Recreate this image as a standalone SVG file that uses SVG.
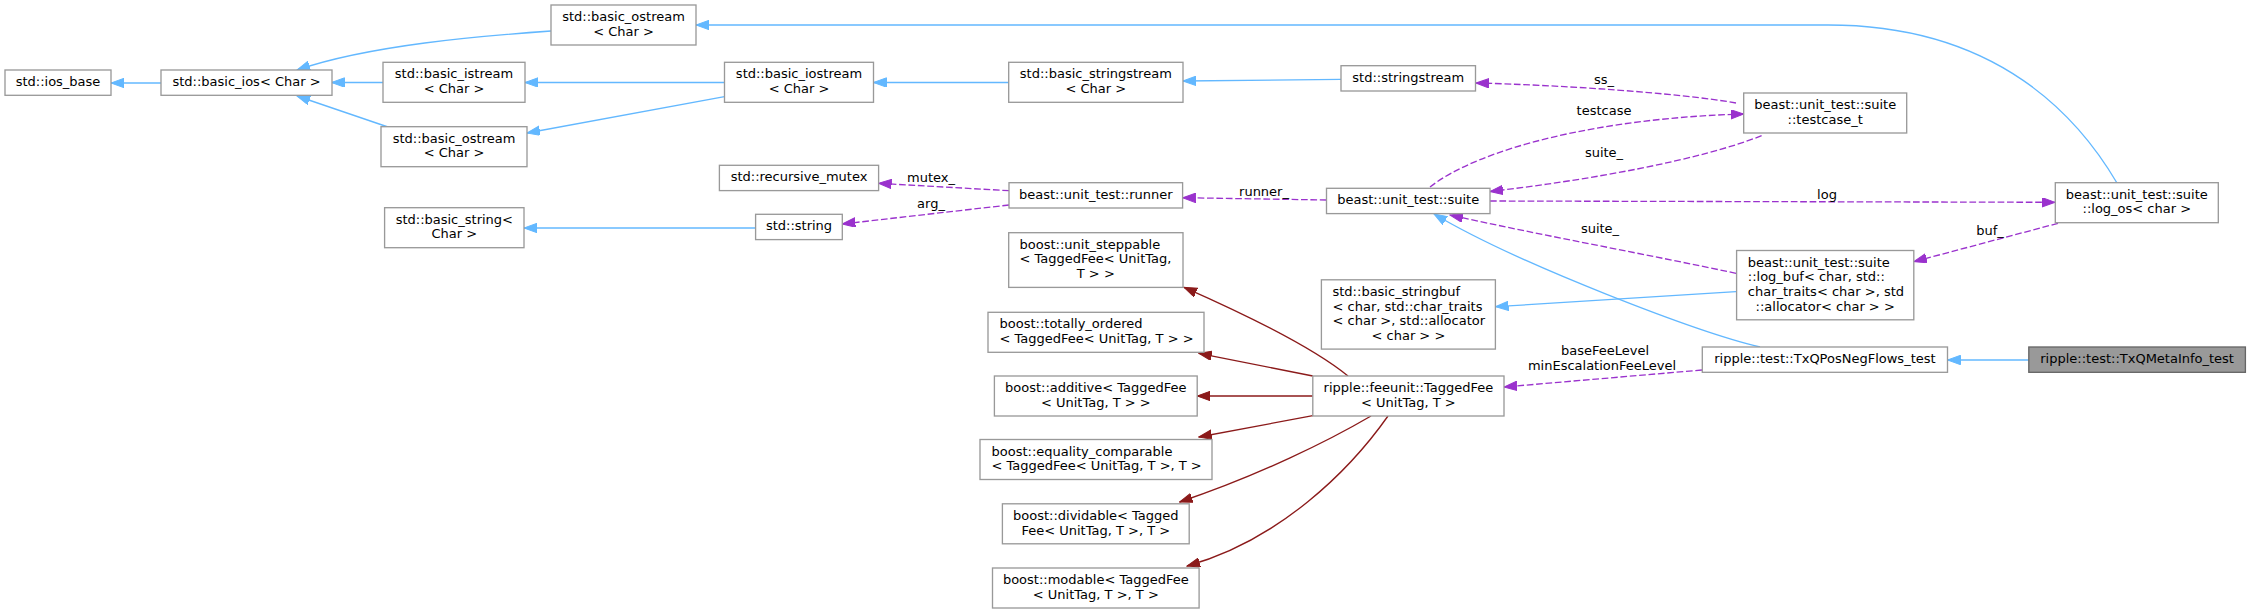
<svg xmlns="http://www.w3.org/2000/svg" width="2251" height="613" viewBox="0 0 2251 613">
<style>
.n rect{fill:#fff;stroke:#999;stroke-width:1.33}
.root rect{fill:#999;stroke:#666;stroke-width:1.33}
text{font-family:"DejaVu Sans",sans-serif;font-size:13px;fill:#000}
.c{text-anchor:middle}
.b{fill:none;stroke:#63b8ff;stroke-width:1.33;marker-end:url(#ab)}
.p{fill:none;stroke:#9a32cd;stroke-width:1.33;stroke-dasharray:6.7,2.7;marker-end:url(#ap)}
.r{fill:none;stroke:#8b1a1a;stroke-width:1.33;marker-end:url(#ar)}
</style>
<defs>
<marker id="ab" markerUnits="userSpaceOnUse" markerWidth="14" markerHeight="10" refX="13" refY="4.7" orient="auto"><path d="M0,0L13,4.7L0,9.4z" fill="#63b8ff" stroke="#63b8ff"/></marker>
<marker id="ap" markerUnits="userSpaceOnUse" markerWidth="14" markerHeight="10" refX="13" refY="4.7" orient="auto"><path d="M0,0L13,4.7L0,9.4z" fill="#9a32cd" stroke="#9a32cd"/></marker>
<marker id="ar" markerUnits="userSpaceOnUse" markerWidth="14" markerHeight="10" refX="13" refY="4.7" orient="auto"><path d="M0,0L13,4.7L0,9.4z" fill="#8b1a1a" stroke="#8b1a1a"/></marker>
</defs>
<rect width="2251" height="613" fill="#fff"/>
<g id="edges">
<path class="b" d="M161,83L111,83"/>
<path class="b" d="M383,82.5L331.5,82.5"/>
<path class="b" d="M388,127L297,96"/>
<path class="b" d="M551,31C480,36 370,45 297,70"/>
<path class="b" d="M724.5,82.5L525,82.5"/>
<path class="b" d="M724.5,96.7L527,133"/>
<path class="b" d="M1008.7,82.5L873.5,82.5"/>
<path class="b" d="M1341,79.3L1183,81"/>
<path class="b" d="M2117,183C2080,120 2000,25 1828,25L696,25"/>
<path class="b" d="M755.6,228L524,228"/>
<path class="b" d="M1760,347C1700,333 1520,265 1434,214"/>
<path class="b" d="M1736,291.7L1495.5,306.7"/>
<path class="b" d="M2028.8,360L1947.5,360"/>
<path class="p" d="M1736,103C1680,93 1560,85 1476,83"/>
<path class="p" d="M1430,187C1480,148 1600,118 1743.7,114"/>
<path class="p" d="M1761.6,135.7C1700,160 1590,180 1490,191.5"/>
<path class="p" d="M1490,201L2055,202.3"/>
<path class="p" d="M1736,273.3C1650,255 1540,235 1450,215"/>
<path class="p" d="M2058,223.3L1913.8,261.7"/>
<path class="p" d="M1326.5,200L1182.6,197.7"/>
<path class="p" d="M1009,190.7L878.6,183.3"/>
<path class="p" d="M1009,205L842.3,224"/>
<path class="p" d="M1702,370L1504,387"/>
<path class="r" d="M1348,376C1310,345 1240,312 1184,287.3"/>
<path class="r" d="M1312.8,376L1198.8,353.3"/>
<path class="r" d="M1312.8,396L1197.2,396"/>
<path class="r" d="M1312.8,415.7L1198.8,437"/>
<path class="r" d="M1371,416C1330,440 1260,475 1179.6,502"/>
<path class="r" d="M1388,416C1350,470 1280,540 1187,566"/>
<text class="c" x="1604" y="83.5">ss_</text>
<text class="c" x="1604" y="114.5">testcase</text>
<text class="c" x="1604" y="156.5">suite_</text>
<text class="c" x="1827" y="198.5">log</text>
<text class="c" x="1600" y="232.5">suite_</text>
<text class="c" x="1990" y="234.5">buf_</text>
<text class="c" x="1264" y="195.5">runner_</text>
<text class="c" x="931" y="181.5">mutex_</text>
<text class="c" x="931" y="207.5">arg_</text>
<text class="c" x="1605" y="355">baseFeeLevel</text>
<text class="c" x="1602" y="369.5">minEscalationFeeLevel</text>
</g>
<g id="ios_base" class="n"><rect x="5" y="70" width="106" height="25.3"/><text class="c" x="58" y="86">std::ios_base</text></g>
<g id="basic_ios" class="n"><rect x="161" y="70" width="171" height="25.3"/><text class="c" x="246.5" y="86">std::basic_ios&lt; Char &gt;</text></g>
<g id="basic_ostream_top" class="n"><rect x="551" y="5" width="145" height="40"/><text class="c" x="623.5" y="21">std::basic_ostream</text><text class="c" x="623.5" y="35.7">&lt; Char &gt;</text></g>
<g id="basic_istream" class="n"><rect x="383" y="62.3" width="142" height="40"/><text class="c" x="454" y="78.3">std::basic_istream</text><text class="c" x="454" y="93">&lt; Char &gt;</text></g>
<g id="basic_ostream_low" class="n"><rect x="381" y="126.7" width="146" height="40"/><text class="c" x="454" y="142.7">std::basic_ostream</text><text class="c" x="454" y="157.4">&lt; Char &gt;</text></g>
<g id="basic_string" class="n"><rect x="384.6" y="207.7" width="139.4" height="40"/><text class="c" x="454.3" y="223.7">std::basic_string&lt;</text><text class="c" x="454.3" y="238.4">Char &gt;</text></g>
<g id="basic_iostream" class="n"><rect x="724.5" y="62.3" width="149" height="40"/><text class="c" x="799" y="78.3">std::basic_iostream</text><text class="c" x="799" y="93">&lt; Char &gt;</text></g>
<g id="recursive_mutex" class="n"><rect x="719.4" y="165.3" width="159.2" height="25.3"/><text class="c" x="799" y="181.3">std::recursive_mutex</text></g>
<g id="std_string" class="n"><rect x="755.6" y="214.3" width="86.7" height="25.3"/><text class="c" x="799" y="230.3">std::string</text></g>
<g id="basic_stringstream" class="n"><rect x="1008.7" y="62.3" width="174.3" height="40"/><text class="c" x="1095.8" y="78.3">std::basic_stringstream</text><text class="c" x="1095.8" y="93">&lt; Char &gt;</text></g>
<g id="runner" class="n"><rect x="1009" y="182.7" width="173.6" height="25.3"/><text class="c" x="1095.8" y="198.7">beast::unit_test::runner</text></g>
<g id="unit_steppable" class="n"><rect x="1008.7" y="232.7" width="174.3" height="54.7"/><text x="1019.5" y="248.7">boost::unit_steppable</text><text x="1019.5" y="263.4">&lt; TaggedFee&lt; UnitTag,</text><text class="c" x="1095.8" y="278">T &gt; &gt;</text></g>
<g id="totally_ordered" class="n"><rect x="988" y="312.3" width="216" height="40"/><text x="999.5" y="328.3">boost::totally_ordered</text><text x="999.5" y="343">&lt; TaggedFee&lt; UnitTag, T &gt; &gt;</text></g>
<g id="additive" class="n"><rect x="994.4" y="376" width="202.8" height="40"/><text class="c" x="1095.8" y="392">boost::additive&lt; TaggedFee</text><text class="c" x="1095.8" y="406.7">&lt; UnitTag, T &gt; &gt;</text></g>
<g id="equality_comparable" class="n"><rect x="980" y="439.5" width="232" height="40"/><text x="991.5" y="455.5">boost::equality_comparable</text><text x="991.5" y="470.2">&lt; TaggedFee&lt; UnitTag, T &gt;, T &gt;</text></g>
<g id="dividable" class="n"><rect x="1002.4" y="503.8" width="186.8" height="40"/><text class="c" x="1095.8" y="519.8">boost::dividable&lt; Tagged</text><text class="c" x="1095.8" y="534.5">Fee&lt; UnitTag, T &gt;, T &gt;</text></g>
<g id="modable" class="n"><rect x="992.5" y="568" width="206.6" height="40"/><text class="c" x="1095.8" y="584">boost::modable&lt; TaggedFee</text><text class="c" x="1095.8" y="598.7">&lt; UnitTag, T &gt;, T &gt;</text></g>
<g id="stringstream" class="n"><rect x="1341" y="65.7" width="134.5" height="25.3"/><text class="c" x="1408.2" y="81.7">std::stringstream</text></g>
<g id="suite" class="n"><rect x="1326.5" y="188.3" width="163.5" height="25.3"/><text class="c" x="1408.2" y="204.3">beast::unit_test::suite</text></g>
<g id="basic_stringbuf" class="n"><rect x="1321.4" y="279.8" width="174" height="69.3"/><text x="1332.5" y="295.8">std::basic_stringbuf</text><text x="1332.5" y="310.5">&lt; char, std::char_traits</text><text x="1332.5" y="325.2">&lt; char &gt;, std::allocator</text><text class="c" x="1408.4" y="339.9">&lt; char &gt; &gt;</text></g>
<g id="TaggedFee" class="n"><rect x="1312.8" y="376" width="191.2" height="40"/><text class="c" x="1408.4" y="392">ripple::feeunit::TaggedFee</text><text class="c" x="1408.4" y="406.7">&lt; UnitTag, T &gt;</text></g>
<g id="testcase_t" class="n"><rect x="1743.7" y="93" width="163" height="40"/><text class="c" x="1825.2" y="109">beast::unit_test::suite</text><text class="c" x="1825.2" y="123.7">::testcase_t</text></g>
<g id="log_buf" class="n"><rect x="1736.6" y="250.5" width="177.2" height="69.3"/><text x="1747.8" y="266.5">beast::unit_test::suite</text><text x="1747.8" y="281.2">::log_buf&lt; char, std::</text><text x="1747.8" y="295.9">char_traits&lt; char &gt;, std</text><text class="c" x="1825.2" y="310.6">::allocator&lt; char &gt; &gt;</text></g>
<g id="TxQPosNegFlows_test" class="n"><rect x="1702.3" y="347" width="245.2" height="25.3"/><text class="c" x="1824.9" y="363">ripple::test::TxQPosNegFlows_test</text></g>
<g id="log_os" class="n"><rect x="2055.3" y="182.7" width="163" height="40"/><text class="c" x="2136.8" y="198.7">beast::unit_test::suite</text><text class="c" x="2136.8" y="213.4">::log_os&lt; char &gt;</text></g>
<g id="TxQMetaInfo_test" class="root"><rect x="2028.8" y="347" width="216.6" height="25.3"/><text class="c" x="2137.1" y="363">ripple::test::TxQMetaInfo_test</text></g>
</svg>
